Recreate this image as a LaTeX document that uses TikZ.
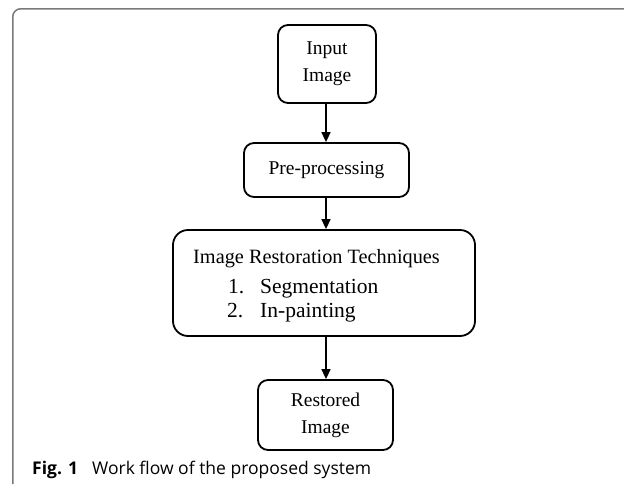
\documentclass[tikz,border=0pt]{standalone}
\usepackage{fontspec}
\setmainfont{Liberation Serif}
\newfontfamily\capfont{Open Sans}
\usetikzlibrary{arrows.meta}
\definecolor{framecol}{HTML}{7A7A7A}
\tikzset{
  stepbox/.style={draw, line width=1.8pt, rounded corners=#1, inner sep=0pt, align=center,
     font=\fontsize{19.5}{27}\selectfont},
  stepbox/.default=10pt,
  arr/.style={line width=1.5pt, -{Triangle[length=10pt,width=9pt]}},
  boxtext/.style={anchor=base west, inner sep=0pt},
}
\begin{document}
\begin{tikzpicture}[x=1pt,y=-1pt]
\useasboundingbox (0,0) rectangle (624,488);
\fill[white] (0,0) rectangle (624,488);
\draw[framecol, line width=1.5pt, rounded corners=8pt] (626,8.75) -| (12.75,484);
% boxes
\node[stepbox, minimum width=98pt, minimum height=78pt] (in) at (327,64) {Input\\Image};
\node[stepbox, minimum width=165pt, minimum height=54pt] (pre) at (326.5,170) {Pre-processing};
\node[stepbox=15pt, minimum width=302pt, minimum height=106pt] (tech) at (324,283) {};
\node[stepbox, minimum width=135pt, minimum height=70pt] (out) at (325.5,415) {Restored\\Image};
% tech texts
\node[boxtext, font=\fontsize{20.3}{24}\selectfont] (t0) at (193,263) {Image Restoration Techniques};
\node[boxtext, font=\fontsize{21.5}{24}\selectfont] (n1) at (228,293) {1.};
\node[boxtext, font=\fontsize{21.5}{24}\selectfont] (t1) at (260,293) {Segmentation};
\node[boxtext, font=\fontsize{21.5}{24}\selectfont] (n2) at (227,317) {2.};
\node[boxtext, font=\fontsize{21.5}{24}\selectfont] (t2) at (260,317) {In-painting};
% arrows
\coordinate (a1) at (326,103);
\coordinate (a2) at (326,197);
\coordinate (a3) at (326,336);
\draw[arr] (a1) -- (a1 |- pre.north);
\draw[arr] (a2) -- (a2 |- tech.north);
\draw[arr] (a3) -- (a3 |- out.north);
% caption
\node[boxtext, font=\capfont\bfseries\fontsize{17.5}{20}\selectfont] (figlab) at (32,474) {Fig. 1};
\node[boxtext, font=\capfont\fontsize{17.5}{20}\selectfont] (figcap) at (92,474) {Work flow of the proposed system};
\end{tikzpicture}
\end{document}
